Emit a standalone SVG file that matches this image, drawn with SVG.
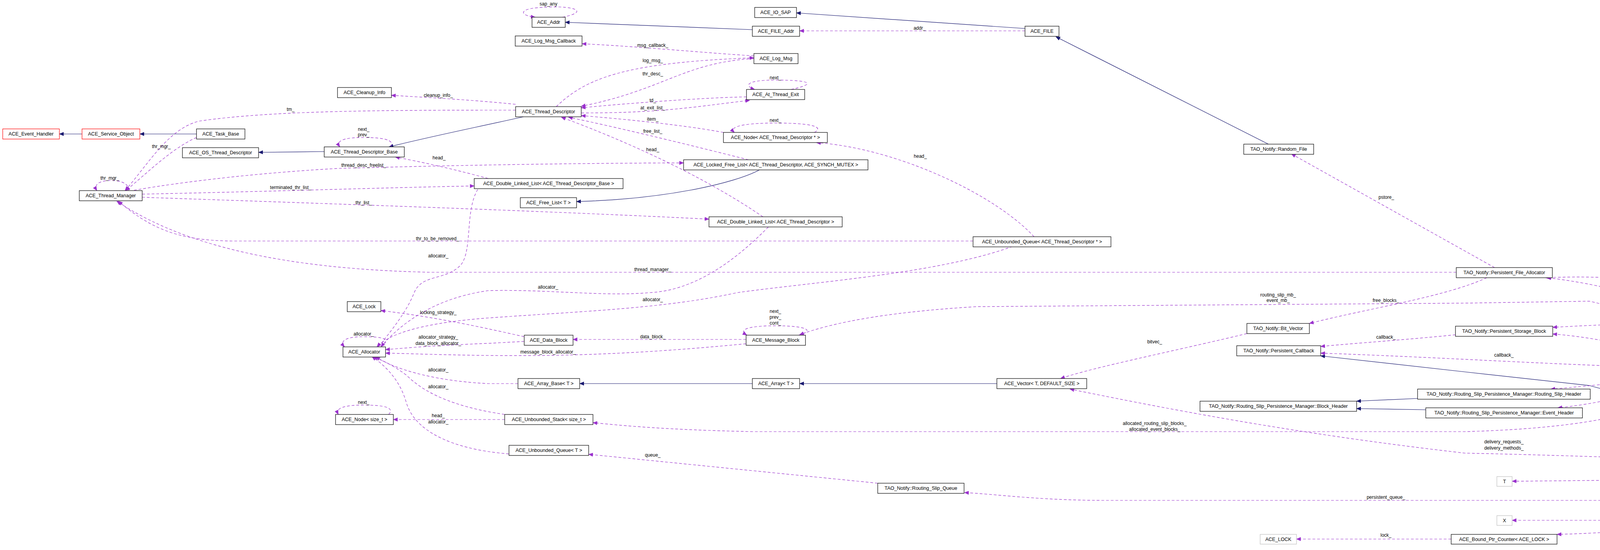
<svg xmlns="http://www.w3.org/2000/svg" width="5003" height="1408" viewBox="0 0 5003 1408">
<style>
.n rect{fill:#fff;stroke:#000;stroke-width:1.2}
.n.red rect{stroke:#f00}
.n.gray rect{stroke:#bfbfbf}
.n.sel rect{fill:#bfbfbf}
.n text{font-family:"Liberation Sans",Arial,sans-serif;font-size:12.5px;text-anchor:middle;fill:#000}
.inh{fill:none;stroke:#191970;stroke-width:1.2;marker-end:url(#ai)}
.use{fill:none;stroke:#9a32cd;stroke-width:1.2;stroke-dasharray:7,5;marker-end:url(#au)}
.lb{font-family:"Liberation Sans",Arial,sans-serif;font-size:12px;text-anchor:middle;fill:#000}
</style>
<defs>
<marker id="ai" markerWidth="12" markerHeight="10" refX="11" refY="5" orient="auto" markerUnits="userSpaceOnUse"><path d="M0,0 L12,5 L0,10 Z" fill="#191970"/></marker>
<marker id="au" markerWidth="12" markerHeight="10" refX="11" refY="5" orient="auto" markerUnits="userSpaceOnUse"><path d="M0,0 L12,5 L0,10 Z" fill="#9a32cd"/></marker>
</defs>
<rect width="5003" height="1408" fill="#fff"/>
<g id="edges">
<path class="inh" d="M210,343 L152,343"/>
<path class="inh" d="M503,343 L358,343"/>
<path class="inh" d="M830,388 L662,390"/>
<path class="inh" d="M1340,299 C1200,330 1100,350 996,376"/>
<path class="inh" d="M1926,76 L1447,57"/>
<path class="inh" d="M2624,73 L2039,33"/>
<path class="inh" d="M3247,369 L2703,94"/>
<path class="inh" d="M1946,434 C1880,470 1700,510 1476,516"/>
<path class="inh" d="M1926,982 L1484,982"/>
<path class="inh" d="M2552,982 L2047,982"/>
<path class="inh" d="M4794,1184 L4069,987 L3750,952 L3381,911"/>
<path class="inh" d="M3629,1020 L3473,1027"/>
<path class="inh" d="M3650,1049 L3473,1046"/>
<path class="inh" d="M4674,838 L4548,843"/>
<path class="use" d="M1440,44 C1510,30 1470,15 1404,18 C1320,20 1330,40 1370,44"/>
<path class="use" d="M2624,79 L2047,79"/>
<path class="use" d="M1930,143 C1800,135 1650,120 1490,112"/>
<path class="use" d="M1424,273 C1500,200 1600,160 1930,148"/>
<path class="use" d="M1930,150 C1750,160 1700,230 1488,272"/>
<path class="use" d="M2025,229 C2090,215 2080,205 1985,205 C1900,205 1910,222 1932,229"/>
<path class="use" d="M1911,248 C1800,250 1600,265 1488,276"/>
<path class="use" d="M1488,289 C1700,290 1800,270 1919,257"/>
<path class="use" d="M1852,339 C1750,320 1600,305 1488,296"/>
<path class="use" d="M2085,339 C2110,325 2080,315 1985,315 C1900,315 1865,325 1880,339"/>
<path class="use" d="M1916,409 C1800,380 1600,330 1455,300"/>
<path class="use" d="M1953,555 C1800,450 1600,360 1437,300"/>
<path class="use" d="M2647,606 C2550,500 2300,380 2090,365"/>
<path class="use" d="M1320,267 C1200,255 1100,250 1002,244"/>
<path class="use" d="M1320,282 C1000,282 700,282 510,310 C430,330 380,420 320,488"/>
<path class="use" d="M503,352 C440,380 380,440 322,488"/>
<path class="use" d="M330,488 C330,470 310,462 285,462 C250,462 240,475 248,488"/>
<path class="use" d="M1000,376 C1010,360 990,352 930,352 C875,352 860,362 870,376"/>
<path class="use" d="M1250,457 C1150,430 1080,415 1012,402"/>
<path class="use" d="M343,487 C500,460 700,440 869,431 C1100,425 1400,418 1750,417"/>
<path class="use" d="M364,497 C700,490 1000,480 1214,476"/>
<path class="use" d="M364,505 C800,520 1400,540 1815,561"/>
<path class="use" d="M2491,617 L600,617 C450,617 380,580 303,515"/>
<path class="use" d="M3728,697 L1100,697 C800,690 500,650 299,515"/>
<path class="use" d="M1223,485 C1190,540 1210,640 1180,678 C1140,720 1080,700 1060,750 C1040,800 1000,850 948,913"/>
<path class="use" d="M1967,581 C1850,700 1750,745 1664,749 C1550,760 1400,740 1250,744 C1150,758 1050,800 975,888"/>
<path class="use" d="M2592,631 C2400,700 2100,720 1888,749 C1700,790 1500,796 1250,814 C1100,825 1000,850 965,888"/>
<path class="use" d="M1342,862 C1200,830 1100,810 975,795"/>
<path class="use" d="M1342,874 L1250,879 C1100,885 1050,890 987,895"/>
<path class="use" d="M1910,880 C1700,900 1500,913 1250,910 C1100,908 1050,905 987,904"/>
<path class="use" d="M1326,982 L1250,982 C1100,975 1000,940 962,913"/>
<path class="use" d="M1292,1061 C1150,1040 1080,1000 1040,960 C1000,930 970,920 956,913"/>
<path class="use" d="M1292,1074 L1007,1074"/>
<path class="use" d="M1303,1162 C1150,1150 1060,1100 1040,1030 C1020,960 970,925 952,913"/>
<path class="use" d="M975,888 C1000,870 990,862 931,862 C880,862 870,875 882,888"/>
<path class="use" d="M995,1061 C1010,1045 990,1037 931,1037 C870,1037 860,1048 866,1061"/>
<path class="use" d="M1910,869 L1467,869"/>
<path class="use" d="M2045,858 C2090,845 2060,834 1985,834 C1910,834 1890,845 1912,858"/>
<path class="use" d="M4356,937 C4290,860 4200,800 4069,771 L3750,776 L2500,785 C2250,800 2120,830 2047,857"/>
<path class="use" d="M3806,711 C3700,760 3500,790 3352,828"/>
<path class="use" d="M3192,854 C3000,900 2800,940 2715,969"/>
<path class="use" d="M3726,857 C3600,870 3450,880 3381,887"/>
<path class="use" d="M4262,941 C4000,935 3700,915 3381,904"/>
<path class="use" d="M4747,1191 C4400,1180 4000,1165 3750,1160 C3400,1120 3100,1070 2739,996"/>
<path class="use" d="M4388,964 C4250,1050 4100,1095 3750,1105 L1927,1105 C1700,1100 1600,1090 1518,1082"/>
<path class="use" d="M4786,1209 C4650,1260 4550,1281 4300,1281 L2819,1281 C2650,1280 2550,1265 2469,1261"/>
<path class="use" d="M2247,1237 L1507,1163"/>
<path class="use" d="M4262,965 C4150,980 4050,990 3970,996"/>
<path class="use" d="M4340,963 C4200,1010 4080,1035 3988,1044"/>
<path class="use" d="M4345,937 C4200,890 4100,865 3975,855"/>
<path class="use" d="M4674,823 C4500,820 4200,825 3975,838"/>
<path class="use" d="M4778,815 C4500,740 4200,700 3957,711"/>
<path class="use" d="M4350,937 C4250,860 4260,780 4180,755 C4100,730 4000,715 3960,711"/>
<path class="use" d="M4480,937 C4500,918 4470,912 4420,912 C4370,912 4350,925 4346,937"/>
<path class="use" d="M4455,937 C4550,890 4700,860 4772,843"/>
<path class="use" d="M4806,843 C4750,900 4650,930 4530,937"/>
<path class="use" d="M4822,1184 C4800,1050 4700,980 4572,957"/>
<path class="use" d="M4747,1202 C4680,1205 4600,1210 4550,1215"/>
<path class="use" d="M4285,1228 L3871,1232"/>
<path class="use" d="M4810,1209 C4750,1290 4650,1325 4556,1332"/>
<path class="use" d="M4278,1332 L3871,1332"/>
<path class="use" d="M4300,1344 C4200,1358 4100,1365 3986,1368"/>
<path class="use" d="M3715,1380 L3319,1380"/>
<path class="use" d="M3826,685 L3306,394"/>
<g class="lbs">
<text class="lb" x="1404" y="14">sap_any</text>
<text class="lb" x="2354" y="76">addr_</text>
<text class="lb" x="1671" y="120">msg_callback_</text>
<text class="lb" x="1671" y="159">log_msg_</text>
<text class="lb" x="1671" y="193">thr_desc_</text>
<text class="lb" x="1985" y="203">next_</text>
<text class="lb" x="1671" y="261">td_</text>
<text class="lb" x="1671" y="280">at_exit_list_</text>
<text class="lb" x="1671" y="309">item_</text>
<text class="lb" x="1985" y="312">next_</text>
<text class="lb" x="1671" y="340">free_list_</text>
<text class="lb" x="1671" y="387">head_</text>
<text class="lb" x="2356" y="404">head_</text>
<text class="lb" x="1122" y="248">cleanup_info_</text>
<text class="lb" x="744" y="284">tm_</text>
<text class="lb" x="413" y="379">thr_mgr_</text>
<text class="lb" x="281" y="460">thr_mgr_</text>
<text class="lb" x="931" y="335">next_</text>
<text class="lb" x="931" y="349">prev_</text>
<text class="lb" x="1124" y="408">head_</text>
<text class="lb" x="931" y="427">thread_desc_freelist_</text>
<text class="lb" x="744" y="484">terminated_thr_list_</text>
<text class="lb" x="931" y="523">thr_list_</text>
<text class="lb" x="1120" y="615">thr_to_be_removed_</text>
<text class="lb" x="1122" y="659">allocator_</text>
<text class="lb" x="1671" y="694">thread_manager_</text>
<text class="lb" x="3549" y="509">pstore_</text>
<text class="lb" x="4416" y="716">allocator_</text>
<text class="lb" x="1403" y="739">allocator_</text>
<text class="lb" x="1671" y="771">allocator_</text>
<text class="lb" x="1122" y="804">locking_strategy_</text>
<text class="lb" x="931" y="859">allocator_</text>
<text class="lb" x="1122" y="867">allocator_strategy_</text>
<text class="lb" x="1122" y="883">data_block_allocator_</text>
<text class="lb" x="1403" y="905">message_block_allocator_</text>
<text class="lb" x="1671" y="866">data_block_</text>
<text class="lb" x="1985" y="801">next_</text>
<text class="lb" x="1985" y="816">prev_</text>
<text class="lb" x="1985" y="831">cont_</text>
<text class="lb" x="1122" y="951">allocator_</text>
<text class="lb" x="1122" y="994">allocator_</text>
<text class="lb" x="931" y="1034">next_</text>
<text class="lb" x="1122" y="1068">head_</text>
<text class="lb" x="1122" y="1084">allocator_</text>
<text class="lb" x="1671" y="1169">queue_</text>
<text class="lb" x="3272" y="759">routing_slip_mb_</text>
<text class="lb" x="3272" y="773">event_mb_</text>
<text class="lb" x="3548" y="773">free_blocks_</text>
<text class="lb" x="2956" y="879">bitvec_</text>
<text class="lb" x="3548" y="867">callback_</text>
<text class="lb" x="3850" y="913">callback_</text>
<text class="lb" x="4166" y="731">allocator_</text>
<text class="lb" x="4416" y="819">psb_</text>
<text class="lb" x="4166" y="848">first_event_block_</text>
<text class="lb" x="4166" y="863">first_routing_slip_block_</text>
<text class="lb" x="4416" y="896">next_manager_</text>
<text class="lb" x="4416" y="911">prev_manager_</text>
<text class="lb" x="4619" y="879">factory_</text>
<text class="lb" x="4620" y="908">root_</text>
<text class="lb" x="4620" y="963">rspm_</text>
<text class="lb" x="4166" y="967">routing_slip_header_</text>
<text class="lb" x="4166" y="1000">event_header_</text>
<text class="lb" x="2956" y="1088">allocated_routing_slip_blocks_</text>
<text class="lb" x="2956" y="1103">allocated_event_blocks_</text>
<text class="lb" x="3850" y="1135">delivery_requests_</text>
<text class="lb" x="3850" y="1151">delivery_methods_</text>
<text class="lb" x="4620" y="1204">event_</text>
<text class="lb" x="4166" y="1223">t_</text>
<text class="lb" x="3548" y="1277">persistent_queue_</text>
<text class="lb" x="4620" y="1310">this_ptr_</text>
<text class="lb" x="4166" y="1327">ptr_</text>
<text class="lb" x="4166" y="1347">counter_</text>
<text class="lb" x="3548" y="1374">lock_</text>
</g>
</g>
<g id="n1" class="n red"><rect x="7" y="330" width="145" height="26"/><text x="79.5" y="347">ACE_Event_Handler</text></g>
<g id="n2" class="n red"><rect x="210" y="330" width="148" height="26"/><text x="284" y="347">ACE_Service_Object</text></g>
<g id="n3" class="n"><rect x="503" y="330" width="124" height="26"/><text x="565" y="347">ACE_Task_Base</text></g>
<g id="n4" class="n"><rect x="467" y="378" width="195" height="26"/><text x="564.5" y="395">ACE_OS_Thread_Descriptor</text></g>
<g id="n5" class="n"><rect x="830" y="376" width="205" height="26"/><text x="932.5" y="393">ACE_Thread_Descriptor_Base</text></g>
<g id="n6" class="n"><rect x="864" y="224" width="138" height="26"/><text x="933" y="241">ACE_Cleanup_Info</text></g>
<g id="n7" class="n"><rect x="203" y="488" width="161" height="26"/><text x="283.5" y="505">ACE_Thread_Manager</text></g>
<g id="n8" class="n"><rect x="1214" y="457" width="381" height="26"/><text x="1404.5" y="474">ACE_Double_Linked_List&lt; ACE_Thread_Descriptor_Base &gt;</text></g>
<g id="n9" class="n"><rect x="1362" y="44" width="85" height="26"/><text x="1404.5" y="61">ACE_Addr</text></g>
<g id="n10" class="n"><rect x="1932" y="19" width="107" height="26"/><text x="1985.5" y="36">ACE_IO_SAP</text></g>
<g id="n11" class="n"><rect x="1926" y="67" width="121" height="26"/><text x="1986.5" y="84">ACE_FILE_Addr</text></g>
<g id="n12" class="n"><rect x="1319" y="92" width="171" height="26"/><text x="1404.5" y="109">ACE_Log_Msg_Callback</text></g>
<g id="n13" class="n"><rect x="1930" y="137" width="113" height="26"/><text x="1986.5" y="154">ACE_Log_Msg</text></g>
<g id="n14" class="n"><rect x="1911" y="229" width="149" height="26"/><text x="1985.5" y="246">ACE_At_Thread_Exit</text></g>
<g id="n15" class="n"><rect x="1320" y="273" width="168" height="26"/><text x="1404" y="290">ACE_Thread_Descriptor</text></g>
<g id="n16" class="n"><rect x="1852" y="339" width="266" height="26"/><text x="1985" y="356">ACE_Node&lt; ACE_Thread_Descriptor * &gt;</text></g>
<g id="n17" class="n"><rect x="1750" y="409" width="472" height="26"/><text x="1986" y="426">ACE_Locked_Free_List&lt; ACE_Thread_Descriptor, ACE_SYNCH_MUTEX &gt;</text></g>
<g id="n18" class="n"><rect x="1332" y="506" width="144" height="26"/><text x="1404" y="523">ACE_Free_List&lt; T &gt;</text></g>
<g id="n19" class="n"><rect x="1815" y="555" width="341" height="26"/><text x="1985.5" y="572">ACE_Double_Linked_List&lt; ACE_Thread_Descriptor &gt;</text></g>
<g id="n20" class="n"><rect x="2491" y="606" width="353" height="26"/><text x="2667.5" y="623">ACE_Unbounded_Queue&lt; ACE_Thread_Descriptor * &gt;</text></g>
<g id="n21" class="n"><rect x="2624" y="67" width="87" height="26"/><text x="2667.5" y="84">ACE_FILE</text></g>
<g id="n22" class="n"><rect x="3184" y="369" width="179" height="26"/><text x="3273.5" y="386">TAO_Notify::Random_File</text></g>
<g id="n23" class="n"><rect x="3728" y="685" width="246" height="26"/><text x="3851" y="702">TAO_Notify::Persistent_File_Allocator</text></g>
<g id="n24" class="n"><rect x="889" y="772" width="86" height="26"/><text x="932" y="789">ACE_Lock</text></g>
<g id="n25" class="n"><rect x="878" y="888" width="109" height="26"/><text x="932.5" y="905">ACE_Allocator</text></g>
<g id="n26" class="n"><rect x="859" y="1061" width="148" height="26"/><text x="933" y="1078">ACE_Node&lt; size_t &gt;</text></g>
<g id="n27" class="n"><rect x="1342" y="858" width="125" height="26"/><text x="1404.5" y="875">ACE_Data_Block</text></g>
<g id="n28" class="n"><rect x="1910" y="858" width="152" height="26"/><text x="1986" y="875">ACE_Message_Block</text></g>
<g id="n29" class="n"><rect x="1326" y="969" width="158" height="26"/><text x="1405" y="986">ACE_Array_Base&lt; T &gt;</text></g>
<g id="n30" class="n"><rect x="1926" y="969" width="121" height="26"/><text x="1986.5" y="986">ACE_Array&lt; T &gt;</text></g>
<g id="n31" class="n"><rect x="1292" y="1061" width="226" height="26"/><text x="1405" y="1078">ACE_Unbounded_Stack&lt; size_t &gt;</text></g>
<g id="n32" class="n"><rect x="1303" y="1140" width="204" height="26"/><text x="1405" y="1157">ACE_Unbounded_Queue&lt; T &gt;</text></g>
<g id="n33" class="n"><rect x="2247" y="1237" width="221" height="26"/><text x="2357.5" y="1254">TAO_Notify::Routing_Slip_Queue</text></g>
<g id="n34" class="n"><rect x="3192" y="828" width="160" height="26"/><text x="3272" y="845">TAO_Notify::Bit_Vector</text></g>
<g id="n35" class="n"><rect x="3166" y="885" width="215" height="26"/><text x="3273.5" y="902">TAO_Notify::Persistent_Callback</text></g>
<g id="n36" class="n"><rect x="2552" y="969" width="230" height="26"/><text x="2667" y="986">ACE_Vector&lt; T, DEFAULT_SIZE &gt;</text></g>
<g id="n37" class="n"><rect x="3072" y="1027" width="401" height="26"/><text x="3272.5" y="1044">TAO_Notify::Routing_Slip_Persistence_Manager::Block_Header</text></g>
<g id="n38" class="n gray"><rect x="3226" y="1368" width="93" height="25"/><text x="3272.5" y="1385">ACE_LOCK</text></g>
<g id="n39" class="n"><rect x="3726" y="835" width="249" height="26"/><text x="3850.5" y="852">TAO_Notify::Persistent_Storage_Block</text></g>
<g id="n40" class="n"><rect x="4674" y="818" width="321" height="26"/><text x="4834.5" y="835">TAO_Notify::Standard_Event_Persistence_Factory</text></g>
<g id="n41" class="n"><rect x="4289" y="836" width="259" height="26"/><text x="4418.5" y="853">TAO_Notify::Event_Persistence_Factory</text></g>
<g id="n42" class="n"><rect x="4262" y="937" width="310" height="26"/><text x="4417" y="954">TAO_Notify::Routing_Slip_Persistence_Manager</text></g>
<g id="n43" class="n"><rect x="3629" y="996" width="442" height="26"/><text x="3850" y="1013">TAO_Notify::Routing_Slip_Persistence_Manager::Routing_Slip_Header</text></g>
<g id="n44" class="n"><rect x="3650" y="1044" width="401" height="26"/><text x="3850.5" y="1061">TAO_Notify::Routing_Slip_Persistence_Manager::Event_Header</text></g>
<g id="n45" class="n sel"><rect x="4747" y="1184" width="173" height="26"/><text x="4833.5" y="1201">TAO_Notify::Routing_Slip</text></g>
<g id="n46" class="n gray"><rect x="3832" y="1220" width="39" height="25"/><text x="3851.5" y="1237">T</text></g>
<g id="n47" class="n"><rect x="4285" y="1216" width="265" height="26"/><text x="4417.5" y="1233">TAO_Notify_Refcountable_Guard_T&lt; T &gt;</text></g>
<g id="n48" class="n gray"><rect x="3832" y="1320" width="39" height="25"/><text x="3851.5" y="1337">X</text></g>
<g id="n49" class="n"><rect x="4278" y="1320" width="278" height="25"/><text x="4417" y="1337">ACE_Strong_Bound_Ptr&lt; X, ACE_LOCK &gt;</text></g>
<g id="n50" class="n"><rect x="3715" y="1368" width="271" height="25"/><text x="3850.5" y="1385">ACE_Bound_Ptr_Counter&lt; ACE_LOCK &gt;</text></g>
</svg>
